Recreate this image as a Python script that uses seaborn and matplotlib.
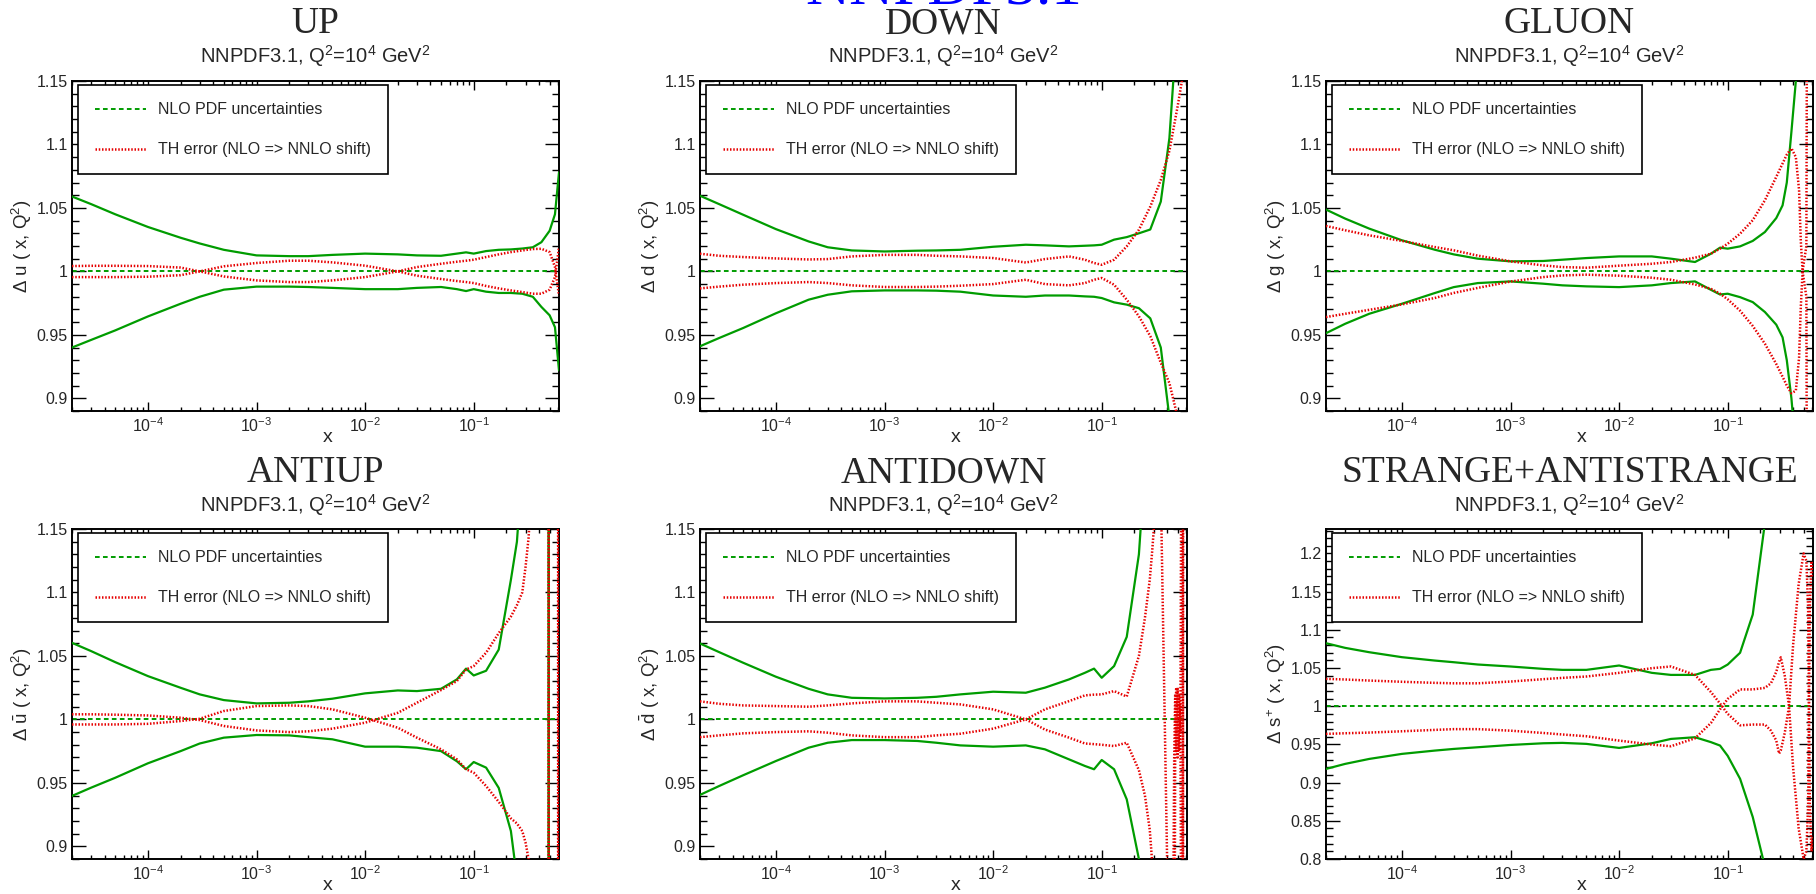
import numpy as np
import matplotlib
matplotlib.use("Agg")
import matplotlib.pyplot as plt
from matplotlib.lines import Line2D
from matplotlib.ticker import MultipleLocator, FuncFormatter, LogLocator, NullFormatter
import seaborn as sns

sns.set_style("ticks")
plt.rcParams["font.family"] = ["Liberation Sans", "DejaVu Sans"]
plt.rcParams["mathtext.default"] = "regular"

# ---------------------------------------------------------------- data
# x nodes shared by all panels (small-x to mid-x region)
X_BASE = [2e-5, 3e-5, 5e-5, 1e-4, 2e-4, 3e-4, 5e-4, 1e-3, 2e-3, 3e-3, 5e-3,
          1e-2, 2e-2, 3e-2, 5e-2, 0.07, 0.085, 0.1, 0.13, 0.17, 0.22]

# UP
X_UP = X_BASE + [0.28, 0.35, 0.42, 0.5, 0.56, 0.61]
UP_NLO_HI = [1.059, 1.053, 1.045, 1.035, 1.0265, 1.022, 1.017, 1.0126, 1.012, 1.012, 1.013,
             1.014, 1.0134, 1.0126, 1.0123, 1.014, 1.015, 1.014, 1.016, 1.017, 1.0173,
             1.018, 1.019, 1.023, 1.032, 1.045, 1.078]
UP_NLO_LO = [0.940, 0.946, 0.9535, 0.9645, 0.9745, 0.980, 0.9856, 0.988, 0.988, 0.9877, 0.987,
             0.986, 0.986, 0.987, 0.9877, 0.986, 0.9845, 0.986, 0.984, 0.983, 0.983,
             0.9824, 0.980, 0.972, 0.9654, 0.956, 0.922]
UP_TH_A = [1.0042, 1.0044, 1.0044, 1.0042, 1.003, 1.0, 0.996, 0.9929, 0.9916, 0.9916, 0.9929,
           0.9955, 1.0, 1.0034, 1.006, 1.0076, 1.0084, 1.0092, 1.0113, 1.0134, 1.0152,
           1.0165, 1.0176, 1.0178, 1.0152, 1.0034, 0.981]
UP_TH_B = [0.9955, 0.9955, 0.9955, 0.9958, 0.997, 1.0, 1.004, 1.0066, 1.0084, 1.0084, 1.0071,
           1.0045, 1.0, 0.9966, 0.994, 0.9924, 0.9916, 0.9908, 0.9885, 0.9866, 0.985,
           0.9837, 0.9824, 0.9824, 0.9856, 0.9955, 1.019]

# DOWN
X_DOWN = X_BASE + [0.28, 0.35, 0.42, 0.5, 0.56, 0.61]
DOWN_NLO_HI = [1.0596, 1.053, 1.0446, 1.0333, 1.0236, 1.019, 1.0165, 1.0157, 1.0163, 1.0165, 1.017,
               1.0194, 1.021, 1.0205, 1.0197, 1.0202, 1.0205, 1.021, 1.025, 1.027, 1.030,
               1.033, 1.055, 1.105, 1.2, 1.3, 1.35]
DOWN_NLO_LO = [0.941, 0.9475, 0.9554, 0.967, 0.9777, 0.9816, 0.9843, 0.985, 0.985, 0.9848, 0.984,
               0.981, 0.980, 0.981, 0.981, 0.9803, 0.980, 0.979, 0.9756, 0.9738, 0.971,
               0.963, 0.94, 0.885, 0.8, 0.75, 0.7]
DOWN_TH_A = [1.0139, 1.0123, 1.0113, 1.0102, 1.0094, 1.0097, 1.0118, 1.013, 1.013, 1.0123, 1.0118,
             1.0105, 1.007, 1.0097, 1.0118, 1.0092, 1.0066, 1.0052, 1.0092, 1.0197, 1.0328,
             1.051, 1.072, 1.095, 1.13, 1.155, 1.2]
DOWN_TH_B = [0.9866, 0.988, 0.9895, 0.9908, 0.9916, 0.9908, 0.989, 0.9877, 0.9877, 0.988, 0.9887,
             0.990, 0.9934, 0.990, 0.989, 0.9908, 0.9934, 0.9948, 0.9895, 0.9777, 0.9646,
             0.949, 0.928, 0.912, 0.885, 0.86, 0.84]

# GLUON
X_GLUON = X_BASE + [0.28, 0.32, 0.35, 0.386, 0.424, 0.454, 0.471, 0.489, 0.53, 0.555, 0.61]
GLUON_NLO_HI = [1.0487, 1.0416, 1.0337, 1.0245, 1.0171, 1.0134, 1.010, 1.0079, 1.0082, 1.0092, 1.0105,
                1.0118, 1.0118, 1.010, 1.0074, 1.0139, 1.0187, 1.0179, 1.0197, 1.024, 1.031,
                1.042, 1.052, 1.07, 1.11, 1.15, 1.2, 1.25, 1.3, 1.4, 1.45, 1.5]
GLUON_NLO_LO = [0.9513, 0.9587, 0.9666, 0.9745, 0.9829, 0.9876, 0.9908, 0.9921, 0.9903, 0.989, 0.9882,
                0.9876, 0.989, 0.9908, 0.9921, 0.9855, 0.9818, 0.9824, 0.9797, 0.9758, 0.968,
                0.958, 0.948, 0.93, 0.90, 0.86, 0.82, 0.8, 0.77, 0.7, 0.65, 0.6]
GLUON_TH_A = [1.0358, 1.0324, 1.0284, 1.024, 1.0192, 1.0166, 1.0124, 1.0079, 1.0047, 1.0034, 1.0029,
              1.0045, 1.006, 1.0074, 1.0108, 1.0139, 1.0179, 1.0218, 1.0297, 1.0403, 1.056,
              1.0745, 1.085, 1.092, 1.097, 1.09, 1.064, 1.024, 1.0, 0.98, 0.3, 0.2]
GLUON_TH_B = [0.964, 0.9666, 0.9697, 0.974, 0.979, 0.983, 0.987, 0.992, 0.9955, 0.9968, 0.9974,
              0.9966, 0.995, 0.9934, 0.9897, 0.9863, 0.9824, 0.978, 0.969, 0.957, 0.943,
              0.927, 0.917, 0.91, 0.904, 0.906, 0.932, 0.972, 1.0, 1.02, 1.7, 1.8]

# ANTIUP
X_AUP = X_BASE + [0.25, 0.28, 0.30, 0.32, 0.34, 0.44, 0.488, 0.492, 0.55, 0.598, 0.602, 0.61]
AUP_NLO_HI = [1.0603, 1.0538, 1.0451, 1.0341, 1.0249, 1.0197, 1.0152, 1.0126, 1.0131, 1.0142, 1.0163,
              1.0205, 1.0228, 1.0223, 1.0241, 1.0315, 1.040, 1.0346, 1.0383, 1.055, 1.11,
              1.14, 1.2, 1.25, 1.3, 1.35, 2.0, 5.0, -3.0, -2.0, -1.5, -1.5, -1.5]
AUP_NLO_LO = [0.9397, 0.9462, 0.954, 0.9654, 0.975, 0.981, 0.9856, 0.9877, 0.9874, 0.986, 0.9843,
              0.9785, 0.9785, 0.9777, 0.975, 0.967, 0.9607, 0.9664, 0.962, 0.946, 0.912,
              0.875, 0.82, 0.78, 0.74, 0.7, 0.0, -5.0, 3.0, 2.0, 1.8, 1.8, 1.8]
AUP_TH_A = [1.004, 1.004, 1.0037, 1.0031, 1.0013, 0.9995, 0.9948, 0.9913, 0.990, 0.9906, 0.9927,
            0.9974, 1.0052, 1.0131, 1.0231, 1.0302, 1.0393, 1.042, 1.0525, 1.068, 1.081,
            1.09, 1.10, 1.12, 1.143, 1.18, 2.0, 5.0, -3.0, -2.0, -1.0, 3.0, 3.0]
AUP_TH_B = [0.996, 0.996, 0.996, 0.9965, 0.9987, 1.0005, 1.0066, 1.0105, 1.011, 1.0105, 1.0079,
            1.0013, 0.9934, 0.9856, 0.9764, 0.9685, 0.9607, 0.958, 0.9475, 0.935, 0.922,
            0.918, 0.912, 0.903, 0.89, 0.87, 0.3, -5.0, 3.0, 2.0, 2.0, -2.0, -2.0]

# ANTIDOWN
X_ADN = X_BASE + [0.25, 0.277, 0.29, 0.308, 0.33, 0.355, 0.40, 0.43, 0.465, 0.475, 0.485,
                  0.50, 0.515, 0.53, 0.555, 0.565, 0.61]
ADN_NLO_HI = [1.0598, 1.053, 1.0446, 1.0336, 1.0241, 1.0197, 1.017, 1.0165, 1.017, 1.0178, 1.0197,
              1.0218, 1.021, 1.025, 1.0315, 1.0367, 1.040, 1.0328, 1.042, 1.065, 1.13,
              1.2, 1.25, 1.3, 1.35, 1.4, 1.45, 1.5, 1.55, 1.6, 1.6, 1.6, 1.6, 1.6, 1.6, 1.6, 1.6, 1.6]
ADN_NLO_LO = [0.9405, 0.9475, 0.956, 0.9672, 0.9777, 0.9816, 0.9837, 0.9837, 0.983, 0.9816, 0.9795,
              0.9785, 0.9795, 0.9764, 0.9685, 0.9633, 0.9607, 0.968, 0.9607, 0.937, 0.89,
              0.82, 0.78, 0.75, 0.72, 0.7, 0.65, 0.6, 0.55, 0.5, 0.5, 0.5, 0.5, 0.5, 0.5, 0.5, 0.5, 0.5]
ADN_TH_A = [1.0142, 1.0123, 1.011, 1.0105, 1.010, 1.011, 1.0126, 1.0142, 1.0142, 1.0131, 1.0118,
            1.0079, 1.0, 0.992, 0.9856, 0.981, 0.9805, 0.980, 0.979, 0.9816, 0.96,
            0.94, 0.913, 0.89, 0.7, 0.5, 0.5, 0.5, 0.5, 0.97, 1.02, 0.975, 1.025, 0.975, 1.01,
            0.5, 1.5, 1.5]
ADN_TH_B = [0.986, 0.9874, 0.989, 0.990, 0.9906, 0.9895, 0.9874, 0.986, 0.986, 0.9874, 0.9887,
            0.9927, 1.0, 1.0079, 1.0144, 1.0189, 1.0195, 1.0197, 1.0223, 1.018, 1.05,
            1.08, 1.11, 1.13, 1.16, 1.4, 1.15, 0.89, 0.6, 0.7, 0.98, 1.025, 0.97, 1.02, 0.99,
            1.5, 0.5, 0.5]

# STRANGE + ANTISTRANGE
X_STR = X_BASE + [0.25, 0.28, 0.297, 0.308, 0.335, 0.367, 0.40, 0.45, 0.50, 0.53, 0.55,
                  0.56, 0.57, 0.59, 0.61]
STR_NLO_HI = [1.0825, 1.0764, 1.0707, 1.0642, 1.0598, 1.0576, 1.0546, 1.052, 1.0489, 1.0476, 1.0476,
              1.0533, 1.0437, 1.041, 1.041, 1.0476, 1.0489, 1.0546, 1.07, 1.12, 1.24,
              1.3, 1.35, 1.4, 1.4, 1.45, 1.5, 1.5, 1.5, 1.5, 1.5, 1.5, 1.5, 1.5, 1.5, 1.5]
STR_NLO_LO = [0.9179, 0.9245, 0.931, 0.9376, 0.9419, 0.9441, 0.9463, 0.9493, 0.9515, 0.952, 0.9507,
              0.9454, 0.9515, 0.9572, 0.9594, 0.953, 0.9485, 0.935, 0.905, 0.855, 0.79,
              0.75, 0.7, 0.68, 0.65, 0.6, 0.55, 0.5, 0.5, 0.5, 0.5, 0.5, 0.5, 0.5, 0.5, 0.5]
STR_TH_A = [1.0358, 1.035, 1.0336, 1.032, 1.0306, 1.030, 1.030, 1.0323, 1.0354, 1.0371, 1.0389,
            1.0437, 1.0498, 1.052, 1.041, 1.0186, 1.0035, 0.99, 0.975, 0.976, 0.976,
            0.968, 0.955, 0.938, 0.942, 0.965, 1.0, 1.08, 1.16, 1.2, 1.19, 1.13, 1.0, 0.87, 0.81, 0.83]
STR_TH_B = [0.9638, 0.9646, 0.9655, 0.9672, 0.969, 0.970, 0.970, 0.968, 0.965, 0.963, 0.9607,
            0.955, 0.9498, 0.9476, 0.958, 0.978, 0.996, 1.0096, 1.022, 1.022, 1.024,
            1.03, 1.045, 1.058, 1.064, 1.04, 1.0, 0.92, 0.84, 0.80, 0.81, 0.87, 1.0, 1.13, 1.19, 1.17]

TITLES = ["UP", "DOWN", "GLUON", "ANTIUP", "ANTIDOWN", "STRANGE+ANTISTRANGE"]
YLABELS = ["\u0394 u ( x, Q$^{2}$)", "\u0394 d ( x, Q$^{2}$)", "\u0394 g ( x, Q$^{2}$)",
           "\u0394 $\\bar{u}$ ( x, Q$^{2}$)", "\u0394 $\\bar{d}$ ( x, Q$^{2}$)",
           "\u0394 s$^{+}$ ( x, Q$^{2}$)"]
SUBTITLE = "NNPDF3.1, Q$^{2}$=10$^{4}$ GeV$^{2}$"
HEADER = "NNPDF3.1"
LEGEND_LABELS = ["NLO PDF uncertainties", "TH error (NLO => NNLO shift)"]
YRANGES = [(0.89, 1.15)] * 5 + [(0.8, 1.232)]
XRANGE = (2e-5, 0.61)

PANELS = [
    (X_UP, UP_NLO_HI, UP_NLO_LO, UP_TH_A, UP_TH_B),
    (X_DOWN, DOWN_NLO_HI, DOWN_NLO_LO, DOWN_TH_A, DOWN_TH_B),
    (X_GLUON, GLUON_NLO_HI, GLUON_NLO_LO, GLUON_TH_A, GLUON_TH_B),
    (X_AUP, AUP_NLO_HI, AUP_NLO_LO, AUP_TH_A, AUP_TH_B),
    (X_ADN, ADN_NLO_HI, ADN_NLO_LO, ADN_TH_A, ADN_TH_B),
    (X_STR, STR_NLO_HI, STR_NLO_LO, STR_TH_A, STR_TH_B),
]

# ---------------------------------------------------------------- style
GREEN = "#009c00"
RED = "#e60000"
DASHED = (0, (2.4, 1.7))
DOTTED = (0, (0.6, 0.7))

FIG_W, FIG_H = 1816, 894
COL_LEFT = [72, 700, 1326]
ROW_TOP = [81, 529]
AX_W, AX_H = 487, 330
TITLE_BASE = [33, 482]
SUB_BASE = [63, 512]

fig = plt.figure(figsize=(FIG_W / 100, FIG_H / 100), dpi=100)
fig.patch.set_facecolor("white")

for i, (xs, nlo_hi, nlo_lo, th_a, th_b) in enumerate(PANELS):
    row, col = divmod(i, 3)
    left = COL_LEFT[col] / FIG_W
    bottom = 1 - (ROW_TOP[row] + AX_H) / FIG_H
    ax = fig.add_axes([left, bottom, AX_W / FIG_W, AX_H / FIG_H])
    ax.set_xscale("log")

    ax.axhline(1.0, color=GREEN, lw=1.4, ls=DASHED, zorder=2)
    for ys, color, ls, lw in [(nlo_hi, GREEN, "-", 1.6), (nlo_lo, GREEN, "-", 1.6),
                              (th_a, RED, DOTTED, 1.8), (th_b, RED, DOTTED, 1.8)]:
        sns.lineplot(x=xs, y=ys, ax=ax, color=color, lw=lw, linestyle=ls,
                     sort=False, estimator=None, errorbar=None, legend=False, zorder=3)

    ax.set_xlim(*XRANGE)
    ax.set_ylim(*YRANGES[i])

    ax.yaxis.set_major_locator(MultipleLocator(0.05))
    ax.yaxis.set_minor_locator(MultipleLocator(0.01))
    ax.yaxis.set_major_formatter(FuncFormatter(lambda v, p: f"{v:g}"))
    ax.xaxis.set_major_locator(LogLocator(base=10, numticks=20))
    ax.xaxis.set_minor_locator(LogLocator(base=10, subs=np.arange(2, 10), numticks=20))
    ax.xaxis.set_minor_formatter(NullFormatter())

    ax.tick_params(which="both", direction="in", top=True, right=True,
                   width=1.0, color="black", labelsize=11.5)
    ax.tick_params(axis="y", which="major", length=10, pad=3)
    ax.tick_params(axis="y", which="minor", length=5)
    ax.tick_params(axis="x", which="major", length=6.7, pad=4)
    ax.tick_params(axis="x", which="minor", length=3.2)
    for sp in ax.spines.values():
        sp.set_linewidth(1.4)
        sp.set_color("black")

    ax.set_xlabel("x", fontsize=14)
    ax.xaxis.set_label_coords(0.524, -0.056)
    ax.set_ylabel(YLABELS[i], fontsize=13.4)
    ax.yaxis.set_label_coords(-0.079, 0.5)

    handles = [Line2D([], [], color=GREEN, lw=1.4, ls=DASHED),
               Line2D([], [], color=RED, lw=1.8, ls=DOTTED)]
    leg = ax.legend(handles, LEGEND_LABELS, loc="upper left", bbox_to_anchor=(0.012, 0.988),
                    borderaxespad=0, frameon=True, fancybox=False, framealpha=1,
                    edgecolor="black", fontsize=11.5, handlelength=3.2, handletextpad=0.75,
                    borderpad=1.08, labelspacing=1.56)
    leg.get_frame().set_linewidth(1.2)

    cx = (COL_LEFT[col] + AX_W / 2) / FIG_W
    fig.text(cx, 1 - TITLE_BASE[row] / FIG_H, TITLES[i], ha="center", va="baseline",
             family="Liberation Serif", fontsize=27)
    fig.text(cx, 1 - SUB_BASE[row] / FIG_H, SUBTITLE, ha="center", va="baseline",
             fontsize=14.5)

# header above the middle column, mostly beyond the top edge
fig.text((COL_LEFT[1] + AX_W / 2) / FIG_W, 1 - 4 / FIG_H, HEADER, ha="center",
         va="baseline", family="Liberation Serif", fontsize=44, color="#0000ff")

fig.savefig("out.png", dpi=100, facecolor="white")
